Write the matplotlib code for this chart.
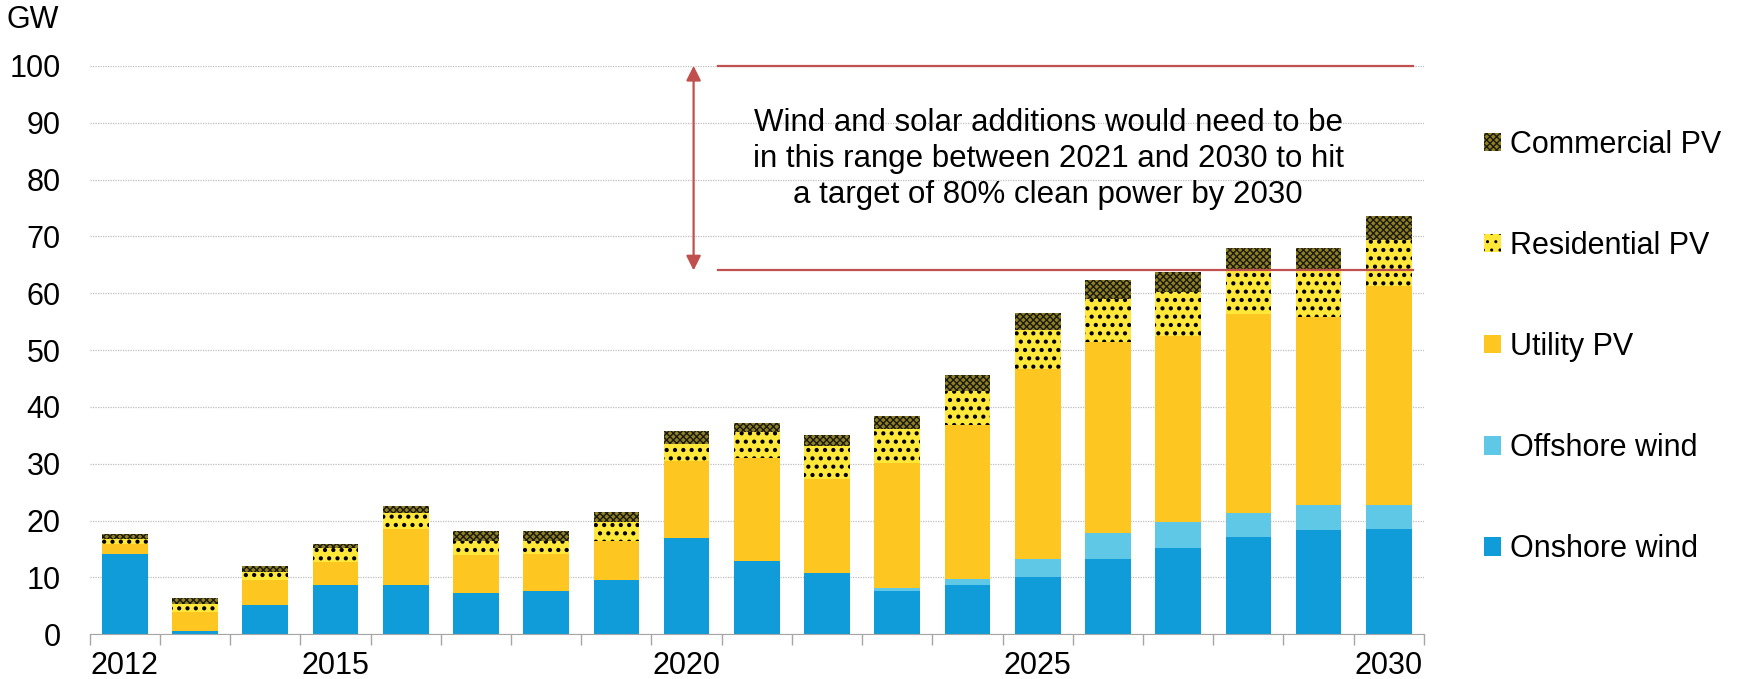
import numpy as np
import matplotlib
matplotlib.use('Agg')
import matplotlib.pyplot as plt

plt.rcParams['font.family'] = ['Liberation Sans', 'DejaVu Sans']

# data (GW added per year)
years = list(range(2012, 2031))
onshore = [14.2, 0.6, 5.2, 8.6, 8.6, 7.2, 7.7, 9.6, 16.9, 12.9, 10.7, 7.6, 8.7, 10.1, 13.2, 15.1, 17.1, 18.4, 18.5]
offshore = [0, 0, 0, 0, 0, 0, 0, 0, 0, 0, 0, 0.6, 1.1, 3.1, 4.6, 4.6, 4.3, 4.4, 4.3]
utility = [1.6, 3.4, 4.3, 4.2, 10.0, 6.7, 6.5, 6.9, 13.5, 18.1, 16.7, 21.9, 27.0, 33.5, 33.7, 32.7, 34.9, 33.0, 38.4]
residential = [0.9, 1.3, 1.5, 2.3, 2.7, 2.6, 2.3, 3.3, 3.1, 4.6, 5.7, 6.0, 6.0, 6.8, 7.4, 7.9, 7.7, 8.2, 8.1]
commercial = [0.9, 1.05, 1.0, 0.8, 1.3, 1.7, 1.7, 1.7, 2.3, 1.6, 1.9, 2.3, 2.8, 3.1, 3.5, 3.4, 3.9, 3.9, 4.3]

tick_years = [2012, 2015, 2020, 2025, 2030]
range_low = 64
range_high = 100
note = ('Wind and solar additions would need to be\n'
        'in this range between 2021 and 2030 to hit\n'
        'a target of 80% clean power by 2030')

fig = plt.figure(figsize=(17.48, 6.79), dpi=100)
ax = fig.add_axes([0.0513, 0.0658, 0.7633, 0.8373])

x = np.arange(len(years))
w = 0.65
bottom = np.zeros(len(years))

# (name, values, style, hatch line width)
series = [
    ('Onshore wind', onshore, dict(color='#109CD8'), 1.0),
    ('Offshore wind', offshore, dict(color='#5FC8E6'), 1.0),
    ('Utility PV', utility, dict(color='#FDC620'), 1.0),
    ('Residential PV', residential, dict(facecolor='#FFE83A', edgecolor='black', hatch='..', linewidth=0), 1.8),
    ('Commercial PV', commercial, dict(facecolor='#8F8024', edgecolor='#1a1a10', hatch='xxxxx', linewidth=0), 1.0),
]
handles = []
for name, vals, style, hlw in series:
    plt.rcParams['hatch.linewidth'] = hlw
    b = ax.bar(x, vals, w, bottom=bottom, label=name, zorder=3, **style)
    handles.append(b)
    bottom += np.array(vals)

ax.set_xlim(-0.5, len(years) - 0.5)
ax.set_ylim(0, 100)
ax.set_yticks(np.arange(0, 101, 10))
ax.yaxis.grid(True, color='#BFBFBF', linestyle=(0, (1, 1)), linewidth=0.9, zorder=0)
ax.tick_params(axis='y', length=0, labelsize=22, pad=21)

ax.set_xticks([years.index(t) for t in tick_years])
ax.set_xticklabels([str(t) for t in tick_years])
ax.set_xticks(np.arange(-0.5, len(years), 1), minor=True)
ax.tick_params(axis='x', which='major', length=0, labelsize=22, pad=12)
ax.tick_params(axis='x', which='minor', length=8, color='#A6A6A6', width=1)

for s in ['top', 'right', 'left']:
    ax.spines[s].set_visible(False)
ax.spines['bottom'].set_color('#A6A6A6')
ax.spines['bottom'].set_zorder(4)

# target range lines and arrow
red = '#C0504D'
ax.plot([8.45, 18.35], [range_high, range_high], color=red, lw=1.6, zorder=5, clip_on=False)
ax.plot([8.45, 18.35], [range_low, range_low], color=red, lw=1.6, zorder=5, clip_on=False)
ax.annotate('', xy=(8.1, range_high), xytext=(8.1, range_low),
            arrowprops=dict(arrowstyle='<|-|>', color=red, lw=1.6, mutation_scale=22,
                            shrinkA=0, shrinkB=0), annotation_clip=False)
ax.text(13.15, 83.6, note, ha='center', va='center', fontsize=22.5, linespacing=1.27, zorder=6)

fig.text(33 / 1748, 1 - 20 / 679, 'GW', ha='center', va='center', fontsize=22)

fig.legend(handles[::-1], [h.get_label() for h in handles[::-1]],
           loc='center left', bbox_to_anchor=(1484 / 1748, 0.489), frameon=False,
           fontsize=22, handlelength=0.55, handleheight=0.55, handletextpad=0.3,
           labelspacing=2.33, borderpad=0, borderaxespad=0)

fig.savefig('out.png', dpi=100)
